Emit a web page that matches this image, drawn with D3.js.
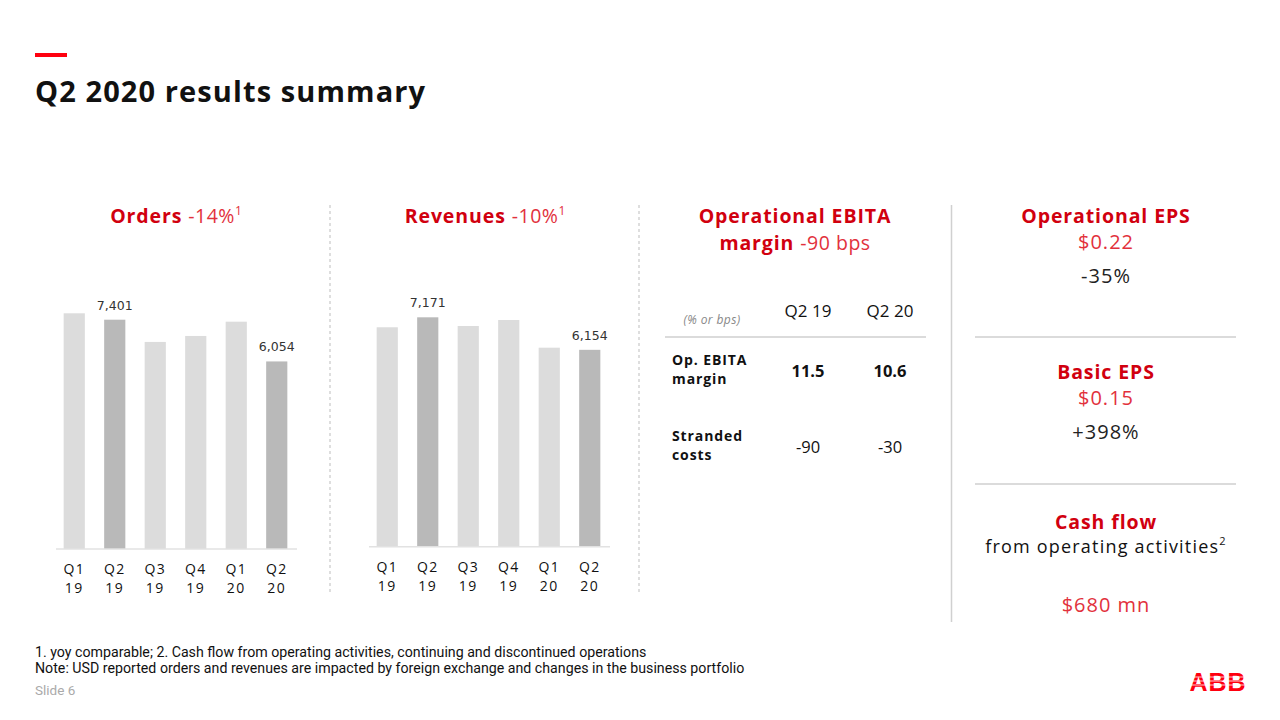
<!DOCTYPE html>
<html><head><meta charset="utf-8">
<script src="https://cdn.jsdelivr.net/npm/d3@7"></script>
<style>
body{margin:0;background:#fff;}
svg{display:block;}
</style></head>
<body>
<svg id="c" width="1280" height="720"></svg>
<script>
// ---- data ----
const quarters = ["Q1 19","Q2 19","Q3 19","Q4 19","Q1 20","Q2 20"];
const ordersValues = [7608, 7401, 6683, 6876, 7337, 6054];
const revenuesValues = [6859, 7171, 6899, 7087, 6221, 6154];
const highlighted = ["Q2 19","Q2 20"];
const ordersLabels = {"Q2 19":"7,401","Q2 20":"6,054"};
const revenuesLabels = {"Q2 19":"7,171","Q2 20":"6,154"};
const tableCols = ["Q2 19","Q2 20"];
const tableRows = [["Op. EBITA","margin"],["Stranded","costs"]];
const tableValues = [["11.5","10.6"],["-90","-30"]];

const RED="#d1000f", RED2="#e2313c";
const FONT="'Open Sans', 'Noto Sans', sans-serif";
const svg = d3.select("#c");

// header
svg.append("rect").attr("x",35).attr("y",53).attr("width",32).attr("height",4).attr("fill","#ff000f");
svg.append("text").attr("x",35).attr("y",102).attr("font-family",FONT).attr("font-weight",700)
  .attr("font-size",29).attr("letter-spacing",1.1).attr("fill","#111").text("Q2 2020 results summary");

function title(x,y,bold,rest,sup){
  const t=svg.append("text").attr("x",x).attr("y",y).attr("text-anchor","middle")
    .attr("font-family",FONT).attr("font-size",19.5).attr("fill",RED);
  t.append("tspan").attr("font-weight",700).attr("letter-spacing",0.9).text(bold);
  if(rest) t.append("tspan").attr("fill",RED2).attr("letter-spacing",0.5).text(rest);
  if(sup) t.append("tspan").attr("fill",RED2).attr("font-size",12).attr("dy",-8).text(sup);
  return t;
}

function barChart(values,labels,x0,x1,base,pxPerUnit){
  const x=d3.scaleBand().domain(quarters).range([x0,x1]).paddingInner(0.477).paddingOuter(0.2385);
  const y=d3.scaleLinear().domain([0,8000]).range([base,base-8000*pxPerUnit]);
  const g=svg.append("g");
  g.selectAll("rect").data(quarters).join("rect")
    .attr("x",d=>x(d)).attr("width",x.bandwidth())
    .attr("y",(d,i)=>y(values[i])).attr("height",(d,i)=>y(0)-y(values[i]))
    .attr("fill",d=>highlighted.includes(d)?"#b9b9b9":"#dcdcdc");
  g.selectAll("text.v").data(quarters.filter(d=>labels[d])).join("text").attr("class","v")
    .attr("x",d=>x(d)+x.bandwidth()/2).attr("y",d=>y(values[quarters.indexOf(d)])-10)
    .attr("text-anchor","middle").attr("font-family","'DejaVu Sans', sans-serif").attr("font-size",12.5)
    .attr("fill","#333").text(d=>labels[d]);
  const ax=svg.append("g").attr("transform",`translate(0,${base})`)
    .call(d3.axisBottom(x).tickSize(0).tickPadding(0));
  ax.select(".domain").attr("stroke","#e2e2e2").attr("stroke-width",1.5)
    .attr("d",`M${x0+2},0H${x1}`);
  ax.selectAll(".tick text").each(function(d){
    const parts=d.split(" ");
    const t=d3.select(this).text(null).attr("font-family",FONT).attr("font-size",14)
      .attr("fill","#111").attr("letter-spacing",1.4).attr("y",0).attr("dy",null);
    t.append("tspan").attr("x",0).attr("y",25).text(parts[0]);
    t.append("tspan").attr("x",0).attr("y",44).text(parts[1]);
  });
}

// Orders
title(176,223,"Orders ","-14%","1");
barChart(ordersValues,ordersLabels,54,297,549,229.3/7401);
// Revenues
title(485,223,"Revenues ","-10%","1");
barChart(revenuesValues,revenuesLabels,367,610,546.7,229.4/7171);

// separators
[330,639].forEach(xx=>svg.append("line").attr("x1",xx).attr("x2",xx).attr("y1",205).attr("y2",592)
  .attr("stroke","#c8c8c8").attr("stroke-width",1.2).attr("stroke-dasharray","3,3"));
svg.append("line").attr("x1",951.5).attr("x2",951.5).attr("y1",205).attr("y2",622)
  .attr("stroke","#d0d0d0").attr("stroke-width",1.5);

// EBITA
title(795,223,"Operational EBITA");
title(795,250,"margin ","-90 bps");
svg.append("text").attr("x",712).attr("y",324).attr("text-anchor","middle").attr("font-family",FONT)
  .attr("font-style","italic").attr("font-size",12).attr("letter-spacing",0.4).attr("fill","#888").text("(% or bps)");
const colX=[808,890];
tableCols.forEach((c,i)=>svg.append("text").attr("x",colX[i]).attr("y",317).attr("text-anchor","middle")
  .attr("font-family",FONT).attr("font-size",17).attr("fill","#111").text(c));
svg.append("line").attr("x1",665).attr("x2",926).attr("y1",337).attr("y2",337).attr("stroke","#cfcfcf").attr("stroke-width",1.5);
const rowY=[371,447];
tableRows.forEach((r,i)=>{
  const t=svg.append("text").attr("font-family",FONT).attr("font-weight",700).attr("font-size",14)
    .attr("letter-spacing",0.9).attr("fill","#111");
  t.append("tspan").attr("x",672).attr("y",rowY[i]-6).text(r[0]);
  t.append("tspan").attr("x",672).attr("y",rowY[i]+13).text(r[1]);
  tableValues[i].forEach((v,j)=>svg.append("text").attr("x",colX[j]).attr("y",rowY[i]+6).attr("text-anchor","middle")
    .attr("font-family",FONT).attr("font-weight",i===0?700:400).attr("font-size",16.5).attr("fill","#111").text(v));
});

// right panel
const cx=1106;
function plain(y,txt,col,size,ls){
  return svg.append("text").attr("x",cx).attr("y",y).attr("text-anchor","middle").attr("font-family",FONT)
    .attr("font-size",size||20).attr("letter-spacing",ls==null?1:ls).attr("fill",col).text(txt);
}
title(cx,223,"Operational EPS");
plain(249,"$0.22",RED2);
plain(283,"-35%","#222");
svg.append("line").attr("x1",975).attr("x2",1236).attr("y1",337).attr("y2",337).attr("stroke","#cfcfcf").attr("stroke-width",1.5);
title(cx,379,"Basic EPS");
plain(405,"$0.15",RED2);
plain(439,"+398%","#222");
svg.append("line").attr("x1",975).attr("x2",1236).attr("y1",484).attr("y2",484).attr("stroke","#cfcfcf").attr("stroke-width",1.5);
title(cx,529,"Cash flow");
const cf=plain(553,"from operating activities","#111",18,1.2);
cf.append("tspan").attr("font-size",11).attr("dy",-8).text("2");
plain(612,"$680 mn",RED2);

// footnotes
const FN="'Liberation Sans Narrow', 'Roboto', sans-serif";
svg.append("text").attr("x",35).attr("y",657).attr("font-family",FN).attr("font-size",14.2).attr("fill","#111")
  .text("1. yoy comparable; 2. Cash flow from operating activities, continuing and discontinued operations");
svg.append("text").attr("x",35).attr("y",673).attr("font-family",FN).attr("font-size",14.2).attr("fill","#111")
  .text("Note: USD reported orders and revenues are impacted by foreign exchange and changes in the business portfolio");
svg.append("text").attr("x",35).attr("y",695).attr("font-family",FN).attr("font-size",13.5).attr("fill","#aaa").text("Slide 6");

// ABB logo
svg.append("text").attr("x",1218).attr("y",691).attr("text-anchor","middle")
  .attr("font-family","'Liberation Sans', Arial, sans-serif").attr("font-weight",700).attr("font-size",25)
  .attr("fill","#ff000f").attr("letter-spacing",1).text("ABB");
[677,681,685].forEach(yy=>svg.append("line").attr("x1",1190).attr("x2",1247).attr("y1",yy).attr("y2",yy)
  .attr("stroke","#fff").attr("stroke-width",0.8));
</script>
</body></html>
